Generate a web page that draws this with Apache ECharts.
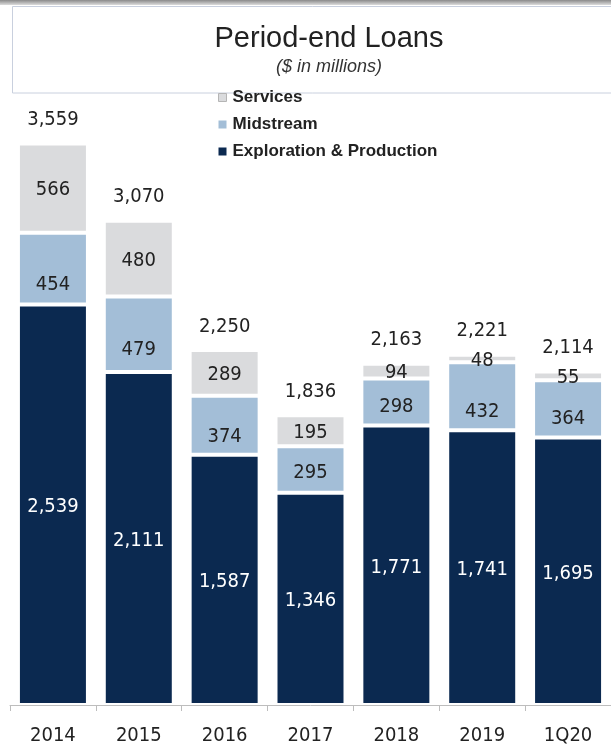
<!DOCTYPE html>
<html>
<head>
<meta charset="utf-8">
<script src="https://cdn.jsdelivr.net/npm/echarts@6/dist/echarts.min.js"></script>
<style>
    html, body {margin: 0; padding: 0; background: #fff;}
    #chart {width: 611px; height: 746px;}
</style>
</head>
<body>
<div id="chart"></div>
<script>
    let categories = ["2014", "2015", "2016", "2017", "2018", "2019", "1Q20"]
    let exploration = [2539, 2111, 1587, 1346, 1771, 1741, 1695]
    let midstream = [454, 479, 374, 295, 298, 432, 364]
    let services = [566, 480, 289, 195, 94, 48, 55]
    let totals = [3559, 3070, 2250, 1836, 2163, 2221, 2114]

    // midstream labels sit a little low in the original slide
    let midNudge = [16, 16, 12, 3, 5, 16, 10]

    let narrow = "'Liberation Sans Narrow', 'DejaVu Sans Condensed', sans-serif"
    let fmt = function (v) {
        return Number(v).toLocaleString("en-US")
    }

    let segLabel = function (color) {
        return {
            show: true,
            position: "inside",
            offset: [0, 2],
            color: color,
            fontSize: 20,
            fontFamily: narrow,
            formatter: function (p) {
                return fmt(p.value)
            }
        }
    }

    let chart = echarts.init(document.getElementById("chart"))

    let option = {
        animation: false,
        backgroundColor: "#fff",
        graphic: [{
            type: "rect",
            shape: {x: 0, y: 0, width: 611, height: 5},
            style: {
                fill: new echarts.graphic.LinearGradient(0, 0, 0, 1, [
                    {offset: 0, color: "#8a8a8a"},
                    {offset: 1, color: "#dcdcdc"}
                ])
            },
            silent: true
        }, {
            type: "rect",
            shape: {x: 12.5, y: 6.5, width: 640, height: 86.5},
            style: {fill: "none", stroke: "#c9d0de", lineWidth: 1},
            silent: true
        }],
        title: [{
            text: "Period-end Loans",
            left: 324,
            top: 19,
            textAlign: "center",
            textStyle: {fontSize: 29, fontWeight: "normal", color: "#222", fontFamily: "'Liberation Sans', Arial, sans-serif"}
        }, {
            text: "($ in millions)",
            left: 324,
            top: 53,
            textAlign: "center",
            textStyle: {fontSize: 18, fontWeight: "normal", fontStyle: "italic", color: "#333", fontFamily: "'Liberation Sans', Arial, sans-serif"}
        }],
        legend: {
            orient: "vertical",
            left: 213,
            top: 84,
            itemWidth: 8,
            itemHeight: 8,
            itemGap: 10,
            icon: "rect",
            itemStyle: {borderWidth: 0},
            textStyle: {fontSize: 17, fontWeight: "bold", color: "#222", fontFamily: "'Liberation Sans', Arial, sans-serif", padding: [0, 0, 0, 1]},
            data: [
                {name: "Services", itemStyle: {borderColor: "#b5b5b5", borderWidth: 1}},
                "Midstream",
                "Exploration & Production"
            ]
        },
        grid: {left: 10, width: 606, top: 74, bottom: 38},
        xAxis: {
            type: "category",
            data: categories,
            axisLine: {lineStyle: {color: "#bdbdbd", width: 1}},
            axisTick: {show: true, length: 6, lineStyle: {color: "#bdbdbd"}},
            axisLabel: {fontSize: 20, color: "#222", fontFamily: narrow, margin: 21}
        },
        yAxis: {
            type: "value",
            min: 0,
            max: 4000,
            show: false,
            splitLine: {show: false}
        },
        series: [{
            name: "Exploration & Production",
            type: "bar",
            stack: "loans",
            barWidth: 70,
            data: exploration,
            itemStyle: {color: "#0b2950", borderColor: "#fff", borderWidth: 2},
            label: segLabel("#fff")
        }, {
            name: "Midstream",
            type: "bar",
            stack: "loans",
            barWidth: 70,
            data: midstream.map(function (v, i) {
                return {value: v, label: {offset: [0, midNudge[i]]}}
            }),
            itemStyle: {color: "#a3bed7", borderColor: "#fff", borderWidth: 2},
            label: segLabel("#222")
        }, {
            name: "Services",
            type: "bar",
            stack: "loans",
            barWidth: 70,
            data: services,
            itemStyle: {color: "#dadbdd", borderColor: "#fff", borderWidth: 2},
            label: segLabel("#222")
        }, {
            name: "Total",
            type: "line",
            data: totals,
            symbol: "circle",
            symbolSize: 1,
            itemStyle: {color: "rgba(0,0,0,0)"},
            lineStyle: {opacity: 0},
            label: {
                show: true,
                position: "top",
                distance: 13,
                color: "#222",
                fontSize: 20,
                fontFamily: narrow,
                formatter: function (p) {
                    return fmt(p.value)
                }
            },
            z: 5
        }]
    }

    chart.setOption(option)
</script>
</body>
</html>
